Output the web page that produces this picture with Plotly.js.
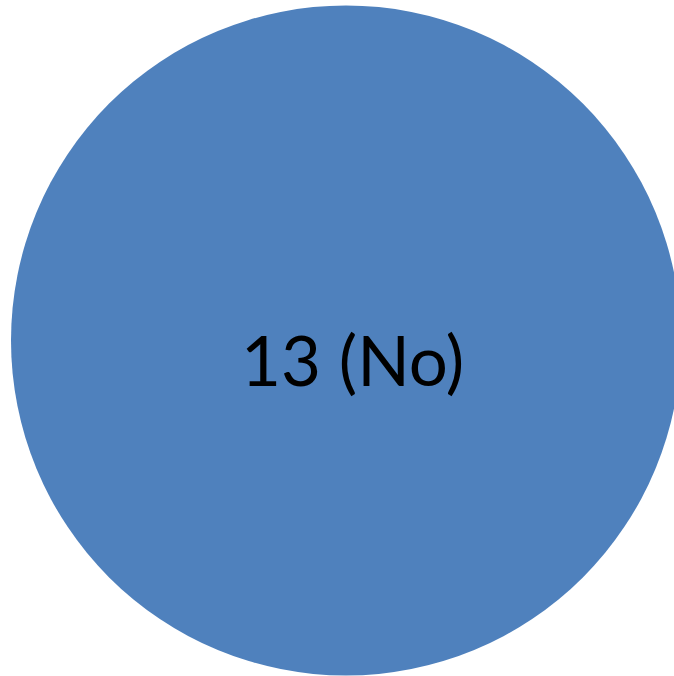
<!DOCTYPE html>
<html>
<head>
<meta charset="utf-8">
<script src="https://cdn.plot.ly/plotly-3.0.1.min.js"></script>
<style>
html, body { margin: 0; padding: 0; overflow: hidden; background: #ffffff; }
#chart { width: 700px; height: 676px; }
</style>
</head>
<body>
<div id="chart"></div>
<script>
const labels = ["No"];
const values = [13];
const colors = ["#4F81BD"];

const trace = {
  type: "pie",
  labels: labels,
  values: values,
  marker: { colors: colors, line: { width: 0 } },
  textinfo: "none",
  hoverinfo: "label+value",
  sort: false,
  showlegend: false
};

const layout = {
  width: 700,
  height: 676,
  margin: { l: 11, r: 19, t: 5, b: 0, pad: 0 },
  paper_bgcolor: "#ffffff",
  showlegend: false,
  annotations: [{
    xref: "paper", yref: "paper",
    x: 0.5104, y: 0.4724,
    xanchor: "center", yanchor: "middle",
    text: values[0] + " (" + labels[0] + ")",
    showarrow: false,
    font: { family: "Lato, 'Open Sans', sans-serif", size: 69, color: "#000000" }
  }]
};

Plotly.newPlot("chart", [trace], layout, { displayModeBar: false, staticPlot: true });
</script>
</body>
</html>
